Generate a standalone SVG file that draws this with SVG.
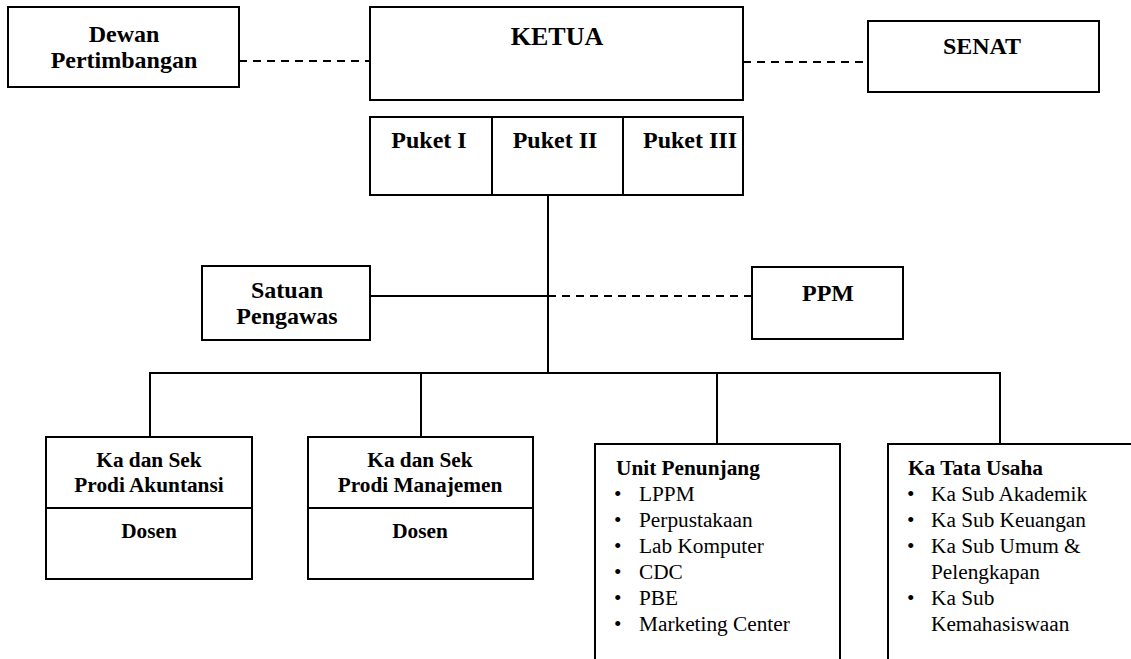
<svg xmlns="http://www.w3.org/2000/svg" width="1131" height="659" viewBox="0 0 1131 659">
<style>
.box{fill:#fff;stroke:#000;stroke-width:2}
.ln{fill:none;stroke:#000;stroke-width:2}
.dash{fill:none;stroke:#000;stroke-width:2;stroke-dasharray:8 6}
.b{font-family:"Liberation Serif","Times New Roman",serif;font-weight:bold;fill:#000}
.r{font-family:"Liberation Serif","Times New Roman",serif;fill:#000;font-size:21.3px}
.c{text-anchor:middle}
</style>
<rect width="1131" height="659" fill="#fff"/>
<g id="connectors">
<line class="dash" x1="239" y1="61" x2="370" y2="61"/>
<line class="dash" x1="743" y1="62" x2="868" y2="62"/>
<line class="ln" x1="548" y1="195" x2="548" y2="373"/>
<line class="ln" x1="370" y1="296" x2="548" y2="296"/>
<line class="dash" x1="548" y1="296" x2="752" y2="296"/>
<polyline class="ln" points="150,437 150,373 1000,373 1000,444"/>
<line class="ln" x1="421" y1="373" x2="421" y2="437"/>
<line class="ln" x1="717" y1="373" x2="717" y2="444"/>
</g>
<g id="dewan">
<rect class="box" x="8" y="7" width="231" height="80"/>
<text class="b c" x="124" y="42" font-size="24">Dewan</text>
<text class="b c" x="124" y="68" font-size="24">Pertimbangan</text>
</g>
<g id="ketua">
<rect class="box" x="370" y="7" width="373" height="93"/>
<text class="b c" x="557" y="45" font-size="26">KETUA</text>
</g>
<g id="senat">
<rect class="box" x="868" y="21" width="231" height="71"/>
<text class="b c" x="982" y="54" font-size="24">SENAT</text>
</g>
<g id="puket">
<rect class="box" x="370" y="117" width="373" height="78"/>
<line class="ln" x1="492" y1="117" x2="492" y2="195"/>
<line class="ln" x1="623" y1="117" x2="623" y2="195"/>
<text class="b c" x="429" y="148" font-size="24">Puket I</text>
<text class="b c" x="555" y="148" font-size="24">Puket II</text>
<text class="b c" x="690" y="148" font-size="24">Puket III</text>
</g>
<g id="satuan">
<rect class="box" x="202" y="266" width="168" height="74"/>
<text class="b c" x="287" y="298" font-size="24">Satuan</text>
<text class="b c" x="287" y="324" font-size="24">Pengawas</text>
</g>
<g id="ppm">
<rect class="box" x="752" y="267" width="151" height="72"/>
<text class="b c" x="828" y="301" font-size="24">PPM</text>
</g>
<g id="akuntansi">
<rect class="box" x="46" y="437" width="206" height="142"/>
<line class="ln" x1="46" y1="508" x2="252" y2="508"/>
<text class="b c" x="149" y="467" font-size="21.3">Ka dan Sek</text>
<text class="b c" x="149" y="492" font-size="21.3">Prodi Akuntansi</text>
<text class="b c" x="149" y="538" font-size="21.3">Dosen</text>
</g>
<g id="manajemen">
<rect class="box" x="308" y="437" width="225" height="142"/>
<line class="ln" x1="308" y1="508" x2="533" y2="508"/>
<text class="b c" x="420" y="467" font-size="21.3">Ka dan Sek</text>
<text class="b c" x="420" y="492" font-size="21.3">Prodi Manajemen</text>
<text class="b c" x="420" y="538" font-size="21.3">Dosen</text>
</g>
<g id="unit">
<polyline class="ln" points="595,662 595,444 840,444 840,662"/>
<text class="b" x="616" y="475" font-size="21.3">Unit Penunjang</text>
<g class="r">
<text x="614" y="501">•</text><text x="639" y="501">LPPM</text>
<text x="614" y="527">•</text><text x="639" y="527">Perpustakaan</text>
<text x="614" y="553">•</text><text x="639" y="553">Lab Komputer</text>
<text x="614" y="579">•</text><text x="639" y="579">CDC</text>
<text x="614" y="605">•</text><text x="639" y="605">PBE</text>
<text x="614" y="631">•</text><text x="639" y="631">Marketing Center</text>
</g>
</g>
<g id="tatausaha">
<polyline class="ln" points="888,662 888,444 1135,444"/>
<text class="b" x="908" y="475" font-size="21.3">Ka Tata Usaha</text>
<g class="r">
<text x="907" y="501">•</text><text x="931" y="501">Ka Sub Akademik</text>
<text x="907" y="527">•</text><text x="931" y="527">Ka Sub Keuangan</text>
<text x="907" y="553">•</text><text x="931" y="553">Ka Sub Umum &amp;</text>
<text x="931" y="579">Pelengkapan</text>
<text x="907" y="605">•</text><text x="931" y="605">Ka Sub</text>
<text x="931" y="631">Kemahasiswaan</text>
</g>
</g>
</svg>
